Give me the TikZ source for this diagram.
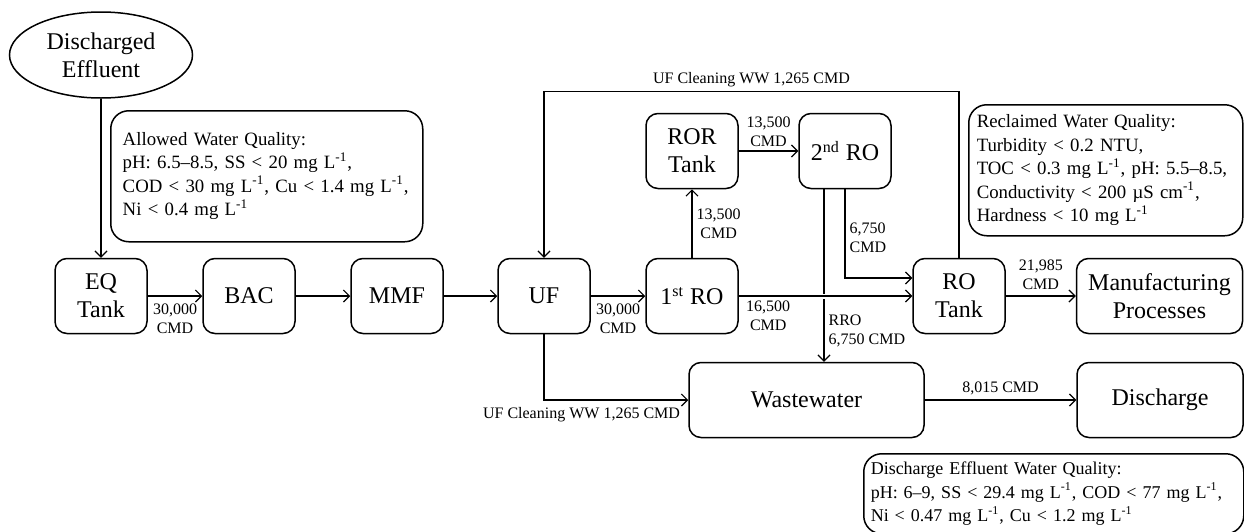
\documentclass[tikz,border=0pt]{standalone}
\usepackage{fontspec}
\setmainfont{Liberation Serif}
\usetikzlibrary{arrows.meta,shapes.geometric,positioning,calc}

\tikzset{
  blk/.style={draw, line width=0.75pt, rounded corners=6pt, minimum width=46pt, minimum height=37.5pt,
    align=center, inner sep=1pt, font=\fontsize{12}{14}\selectfont},
  ell/.style={draw, ellipse, line width=0.75pt, minimum width=91.5pt, minimum height=43pt,
    inner sep=0pt, align=center, font=\fontsize{12}{14}\selectfont},
  note/.style={draw, line width=0.75pt, rounded corners=9pt, align=left, anchor=north west,
    inner xsep=4pt, font=\fontsize{9.4}{11.75}\selectfont},
  flow/.style={line width=0.6pt, -{Straight Barb[length=3pt,width=6pt]}},
  lbl/.style={font=\fontsize{8}{9.5}\selectfont, align=center, inner sep=2pt},
}
\newcommand{\perL}{L\textsuperscript{-1}}

\begin{document}
\begin{tikzpicture}[x=0.5pt, y=-0.5pt]
  \useasboundingbox (0,0) rectangle (1244,531);

  % source and main line
  \node[ell] (src) at (101,55) {Discharged\\Effluent};
  \node[blk] (eq) at (101,296) {EQ\\Tank};
  \node[blk] (bac) at (249,296) {BAC};
  \node[blk] (mmf) at (397,296) {MMF};
  \node[blk] (uf) at (544,296) {UF};
  \node[blk] (ro1) at (692,296) {1\textsuperscript{st} RO};
  \node[blk] (ror) at (692,151) {ROR\\Tank};
  \node[blk] (ro2) at (845,151) {2\textsuperscript{nd} RO};
  \node[blk] (rot) at (959,296) {RO\\Tank};
  \node[blk, minimum width=83pt] (mfg) at (1159.5,296) {Manufacturing\\Processes};
  \node[blk, minimum width=117.5pt] (ww) at (806.5,400) {Wastewater};
  \node[blk, minimum width=83pt] (dis) at (1160,400) {Discharge};

  % quality notes
  \node[note, inner xsep=6pt, text width=144pt, minimum height=65.5pt] (allowed) at (110,110)
    {Allowed Water Quality:\\
     pH: 6.5--8.5, SS < 20 mg \perL,\\
     COD < 30 mg \perL, Cu < 1.4 mg \perL,\\
     Ni < 0.4 mg \perL};
  \node[note, text width=129pt, minimum height=65.5pt] (reclaimed) at (968,104)
    {Reclaimed Water Quality:\\
     Turbidity < 0.2 NTU,\\
     TOC < 0.3 mg \perL, pH: 5.5--8.5,\\
     Conductivity < 200 µS cm\textsuperscript{-1},\\
     Hardness < 10 mg \perL};
  \node[note, inner xsep=3.5pt, text width=183pt, minimum height=40pt,
    font=\fontsize{9}{11.75}\selectfont] (effluent) at (863,453)
    {Discharge Effluent Water Quality:\\
     pH: 6--9, SS < 29.4 mg \perL, COD < 77 mg \perL,\\
     Ni < 0.47 mg \perL, Cu < 1.2 mg \perL};

  % flows
  \draw[flow] (src) -- (eq);
  \draw[flow] (eq) -- node[lbl, below, yshift=-1.5pt] {30,000\\CMD} (bac);
  \draw[flow] (bac) -- (mmf);
  \draw[flow] (mmf) -- (uf);
  \draw[flow] (uf) -- node[lbl, below, yshift=-1.5pt] {30,000\\CMD} (ro1);
  \draw[flow] (ro1) -- node[lbl, right] {13,500\\CMD} (ror);
  \draw[flow] (ror) -- node[lbl, above] {13,500\\CMD} (ro2);
  \draw[flow] ([xshift=-10.5pt]ro2.south) -- node[lbl, right, align=left, pos=0.82] {RRO\\6,750 CMD}
    ([xshift=-10.5pt]ro2.south |- ww.north);
  \draw[flow] (ro2.south) |- node[lbl, right, align=left, pos=0.275] {6,750\\CMD} ([yshift=9pt]rot.west);
  \draw[flow, preaction={draw=white, line width=2.5pt, -}] (ro1) -- node[lbl, below, pos=0.17] {16,500\\CMD} (rot);
  \draw[flow] (rot) -- node[lbl, above, yshift=1pt] {21,985\\CMD} (mfg);
  \draw[flow] (rot.north) -- ++(0,83pt) -| node[lbl, above, pos=0.25] {UF Cleaning WW 1,265 CMD} (uf.north);
  \draw[flow] (uf.south) |- node[lbl, below, pos=0.63, yshift=-1.5pt] {UF Cleaning WW 1,265 CMD} (ww.west);
  \draw[flow] (ww) -- node[lbl, above] {8,015 CMD} (dis);
\end{tikzpicture}
\end{document}
